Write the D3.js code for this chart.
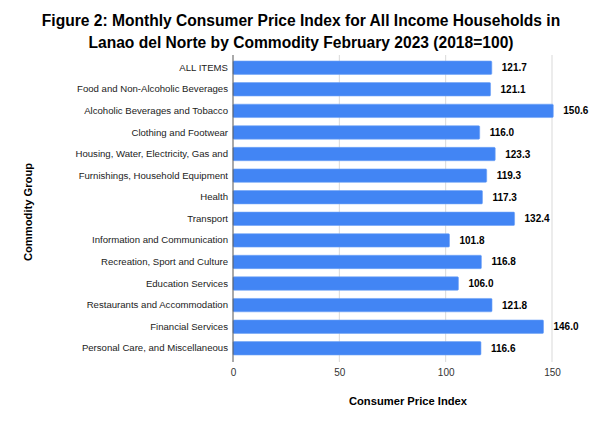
<!DOCTYPE html>
<html><head><meta charset="utf-8">
<script src="https://cdn.jsdelivr.net/npm/d3@7"></script>
<style>body{margin:0;background:#fff;}svg{display:block;font-family:"Liberation Sans",Arial,sans-serif;}</style>
</head><body>
<svg id="c" width="602" height="427"></svg>
<script>
const categories = ["ALL ITEMS","Food and Non-Alcoholic Beverages","Alcoholic Beverages and Tobacco","Clothing and Footwear","Housing, Water, Electricity, Gas and","Furnishings, Household Equipment","Health","Transport","Information and Communication","Recreation, Sport and Culture","Education Services","Restaurants and Accommodation","Financial Services","Personal Care, and Miscellaneous"];
const values = [121.7,121.1,150.6,116.0,123.3,119.3,117.3,132.4,101.8,116.8,106.0,121.8,146.0,116.6];
const xTicks = [0,50,100,150];
const titleLines = ["Figure 2: Monthly Consumer Price Index for All Income Households in","Lanao del Norte by Commodity February 2023 (2018=100)"];
const xTitle = "Consumer Price Index";
const yTitle = "Commodity Group";

(function(){
const svg = d3.select("#c");
const pLeft = 233, pRight = 552, pTop = 56.9, pBottom = 359.1;
const x = d3.scaleLinear().domain([0,150]).range([pLeft,pRight]);
const y = d3.scaleBand().domain(categories).range([pTop,pBottom]).paddingInner(0.38).paddingOuter(0.19);

svg.append("g").selectAll("text").data(titleLines).join("text")
  .attr("x",301).attr("y",(d,i)=>26+i*22).attr("text-anchor","middle")
  .attr("font-size",15.6).attr("font-weight","bold").attr("fill","#000").text(d=>d);

svg.append("g").selectAll("line").data(xTicks.filter(t=>t>0)).join("line")
  .attr("x1",d=>x(d)).attr("x2",d=>x(d)).attr("y1",55).attr("y2",362)
  .attr("stroke","#d9d9d9").attr("stroke-width",1);

svg.append("g").selectAll("rect").data(values).join("rect")
  .attr("x",x(0)).attr("y",(d,i)=>y(categories[i]))
  .attr("width",d=>x(d)-x(0)).attr("height",y.bandwidth())
  .attr("fill","#4285f4").attr("stroke","#6fa2f7").attr("stroke-width",0.6).attr("rx",1);

svg.append("line").attr("x1",x(0)).attr("x2",x(0)).attr("y1",55).attr("y2",362)
  .attr("stroke","#555").attr("stroke-width",1);

svg.append("g").selectAll("text").data(values).join("text")
  .attr("x",d=>x(d)+10).attr("y",(d,i)=>y(categories[i])+y.bandwidth()/2)
  .attr("dy","0.35em").attr("font-size",10).attr("font-weight","bold").attr("fill","#000")
  .text(d=>d.toFixed(1));

const yAxis = d3.axisLeft(y).tickSize(0).tickPadding(5);
const gy = svg.append("g").attr("transform",`translate(${x(0)},0)`).call(yAxis);
gy.select(".domain").remove();
gy.selectAll("text").attr("font-size",9.6).attr("fill","#222").attr("font-family","Liberation Sans, Arial, sans-serif");

const xAxis = d3.axisBottom(x).tickValues(xTicks).tickSize(0).tickPadding(7);
const gx = svg.append("g").attr("transform",`translate(0,362)`).call(xAxis);
gx.select(".domain").remove();
gx.selectAll("text").attr("font-size",10).attr("fill","#333").attr("font-family","Liberation Sans, Arial, sans-serif");

svg.append("text").attr("x",408).attr("y",405).attr("text-anchor","middle")
  .attr("font-size",11.2).attr("font-weight","bold").attr("fill","#000").text(xTitle);
svg.append("text").attr("transform","translate(32,212) rotate(-90)").attr("text-anchor","middle")
  .attr("font-size",11.2).attr("font-weight","bold").attr("fill","#000").text(yTitle);
})();
</script>
</body></html>
